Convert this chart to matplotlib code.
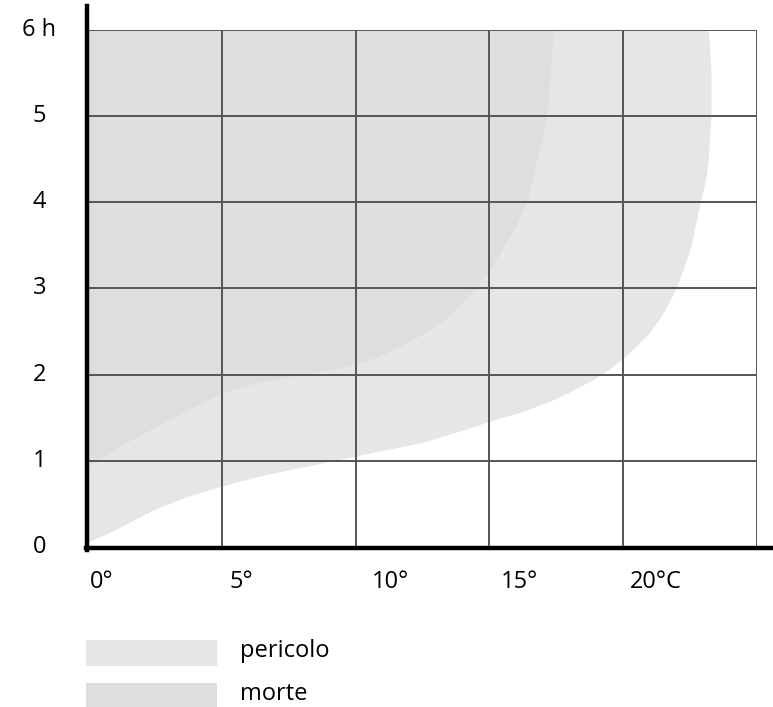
import matplotlib
matplotlib.use("Agg")
import matplotlib.pyplot as plt
from matplotlib.lines import Line2D
from matplotlib.patches import Rectangle

plt.rcParams['font.family'] = ['Open Sans', 'DejaVu Sans']

# Grenzkurven (Temperatur in °C, Zeit in Stunden)
pericolo_t = [0, 0.6, 1.2, 1.8, 2.5, 3.7, 5, 6.2, 7.5, 8.8, 10, 11.2, 12.4, 13.5, 15, 16.2, 17.3,
              18.0, 18.9, 19.6, 20.3, 21.0, 21.5, 22.0, 22.3, 22.56, 22.9, 23.1, 23.2, 23.3, 23.3, 23.25, 23.2]
pericolo_h = [0.05, 0.13, 0.22, 0.32, 0.43, 0.58, 0.70, 0.80, 0.89, 0.97, 1.05, 1.125, 1.20, 1.30, 1.45, 1.56, 1.69,
              1.79, 1.94, 2.08, 2.26, 2.48, 2.70, 3.0, 3.25, 3.5, 4.0, 4.25, 4.5, 5.0, 5.5, 5.75, 6.0]

morte_t = [0, 0.6, 1.2, 1.8, 2.5, 3.7, 5, 6.2, 7.5, 8.8, 10, 10.9, 11.66, 12.6, 13.5, 14.0, 14.5, 15.0,
           15.5, 16.0, 16.45, 16.8, 17.0, 17.16, 17.3, 17.4]
morte_h = [0.93, 1.05, 1.16, 1.27, 1.38, 1.58, 1.78, 1.89, 1.97, 2.04, 2.12, 2.21, 2.32, 2.48, 2.67, 2.82, 3.0, 3.2,
           3.45, 3.72, 4.03, 4.5, 4.75, 5.0, 5.5, 6.0]

x_ticks = [0, 5, 10, 15, 20]
x_labels = ["0°", "5°", "10°", "15°", "20°C"]
y_ticks = [0, 1, 2, 3, 4, 5, 6]
y_labels = ["0", "1", "2", "3", "4", "5", "6 h"]

legend_labels = ["pericolo", "morte"]
legend_colors = ["#e6e6e6", "#dedede"]

W, H = 773, 707
fig = plt.figure(figsize=(W / 100, H / 100), dpi=100)
ax = fig.add_axes([88 / W, 160 / H, 669 / W, 517 / H])
ax.set_xlim(0, 25)
ax.set_ylim(0, 6)

# Flächen
ax.fill(pericolo_t + [0], pericolo_h + [6], color=legend_colors[0], lw=0, zorder=1)
ax.fill(morte_t + [0], morte_h + [6], color=legend_colors[1], lw=0, zorder=2)

# Gitter
grid_c = "#555555"
for xv in range(0, 26, 5):
    ax.axvline(xv, color=grid_c, lw=1.4, zorder=3)
for yv in y_ticks:
    ax.axhline(yv, color=grid_c, lw=1.4, zorder=3)

for s in ax.spines.values():
    s.set_visible(False)
ax.set_xticks([])
ax.set_yticks([])

# dicke Achsen
px = lambda x, y: (x / W, 1 - y / H)
fig.add_artist(Line2D(*zip(px(87.3, 6), px(87.3, 550)), color="black", lw=3.2, transform=fig.transFigure))
fig.add_artist(Line2D(*zip(px(85.5, 548), px(773, 548)), color="black", lw=3.2, transform=fig.transFigure))

# Beschriftungen
fs = 17
x_off = [13.7, 20, 35, 30, 33]  # Pixelversatz wie im Original
for xv, lab, off in zip(x_ticks, x_labels, x_off):
    xp = 88 + xv * 669 / 25 + off
    fig.text(xp / W, 1 - 582 / H, lab, ha="center", va="center", fontsize=fs)
for yv, lab in zip(y_ticks, y_labels):
    ax.text(-1.82, yv, lab, ha="center", va="center", fontsize=fs)

# Legende
for i, (lab, col) in enumerate(zip(legend_labels, legend_colors)):
    top = 640 + i * 43
    fig.add_artist(Rectangle(px(86, top + 25.5), 131 / W, 25.5 / H, color=col, lw=0, transform=fig.transFigure))
    fig.text(240 / W, 1 - (top + 11) / H, lab, ha="left", va="center", fontsize=fs)

fig.savefig("out.png", dpi=100)
